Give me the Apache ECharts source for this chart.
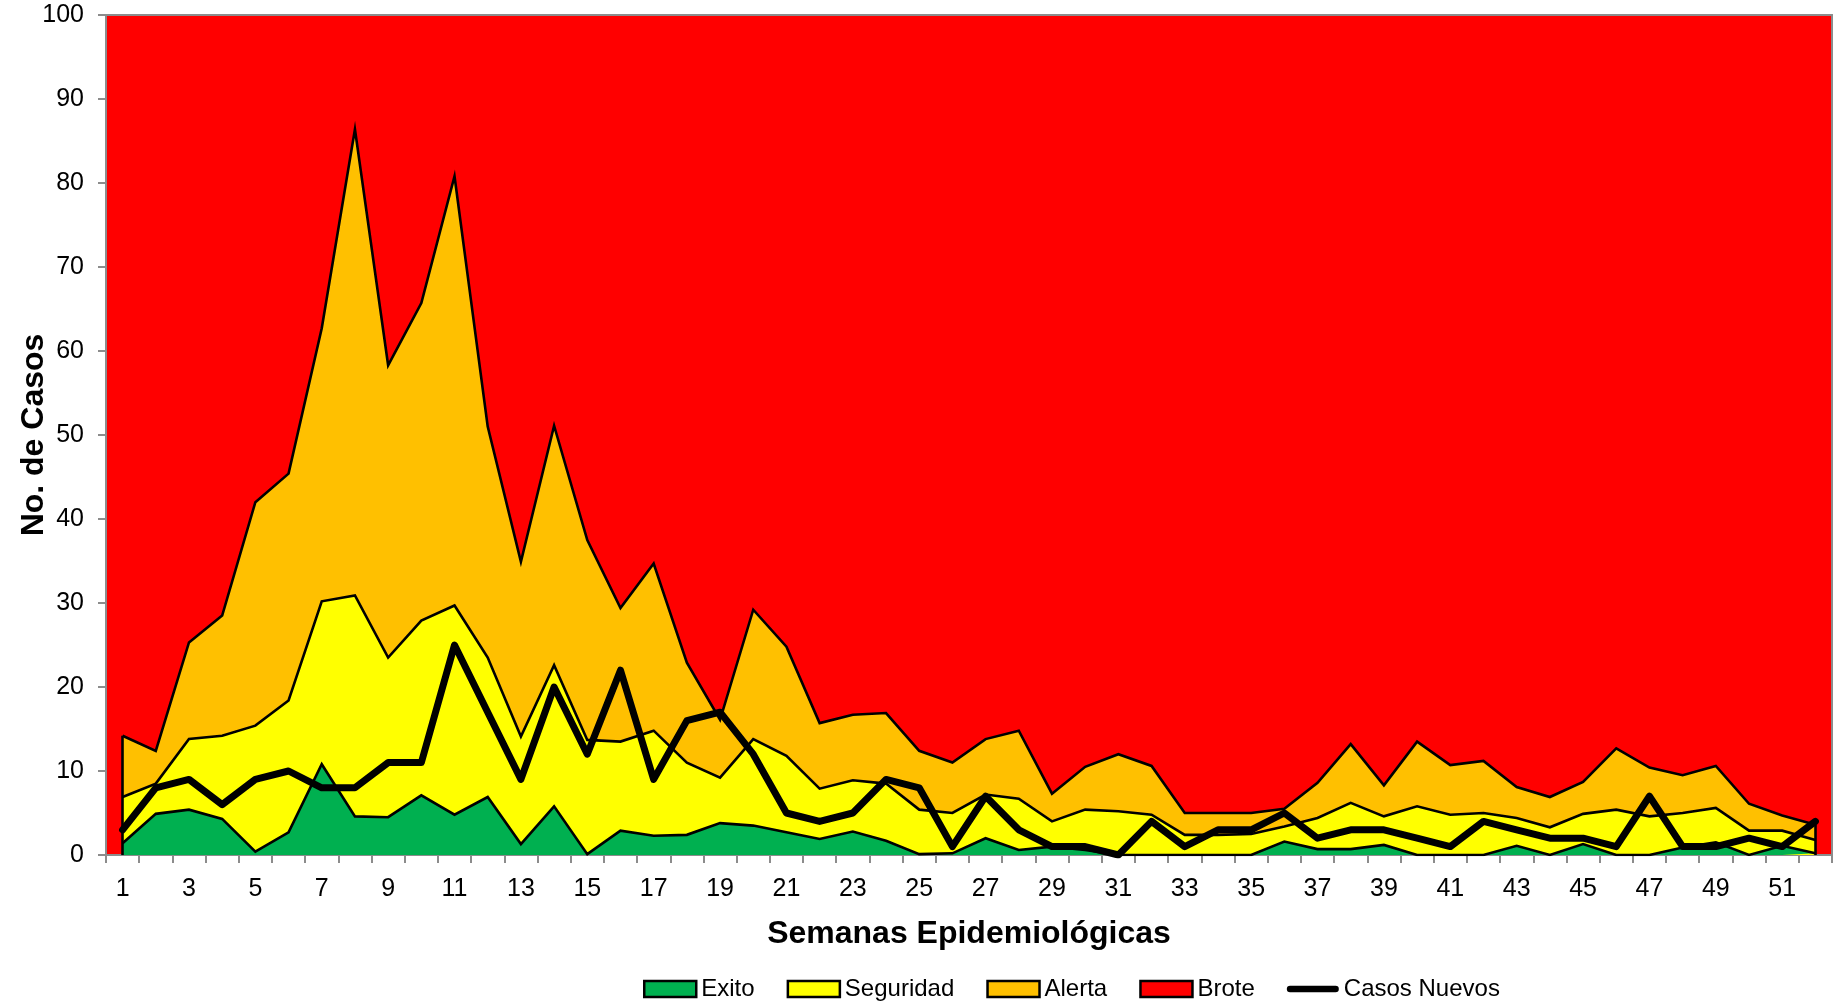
<!DOCTYPE html>
<html><head><meta charset="utf-8">
<script src="https://cdn.jsdelivr.net/npm/echarts@6/dist/echarts.min.js"></script>
<style>html,body{margin:0;padding:0;background:#fff}#c{width:1845px;height:1002px}</style>
</head><body><div id="c"></div>
<script>
const semanas = ['1','2','3','4','5','6','7','8','9','10','11','12','13','14','15','16','17','18','19','20','21','22','23','24','25','26','27','28','29','30','31','32','33','34','35','36','37','38','39','40','41','42','43','44','45','46','47','48','49','50','51','52'];
const exito = [1.4,4.9,5.4,4.3,0.4,2.7,10.8,4.6,4.5,7.1,4.8,6.9,1.3,5.8,0.1, 2.9,2.3,2.4,3.8,3.5,2.7,1.9,2.8,1.7,0.1,0.2,2.0,0.6,1.0,0.6, 0,0,0,0,0,1.6,0.7,0.7,1.2,0,0,0, 1.1,0,1.3,0,0,0.9,1.5,0,1.1,0.2];
const seguridad = [6.9,8.5,13.8,14.2,15.4,18.4,30.2,30.9,23.5,27.9,29.7,23.5,14.1,22.6,13.7, 13.5,14.8,11.0,9.2,13.8,11.8,7.9,8.9,8.5,5.4,5.0,7.2,6.7,4.0,5.4, 5.2,4.8,2.4,2.4,2.5,3.4,4.4,6.2,4.6,5.8,4.8,5.0, 4.4,3.3,4.9,5.4,4.6,5.0,5.6,2.9,2.9,1.8];
const alerta = [14.2,12.4,25.3,28.5,42.0,45.4,62.7,86.4,58.3,65.7,80.8,51.0,34.9,51.1,37.5, 29.4,34.7,22.9,16.1,29.2,24.8,15.7,16.7,16.9,12.4,11.0,13.8,14.8,7.3,10.5, 12.0,10.6,5.0,5.0,5.0,5.5,8.6,13.2,8.3,13.5,10.7,11.2, 8.1,6.9,8.7,12.7,10.4,9.5,10.6,6.1,4.7,3.6];
const casosNuevos = [3,8,9,6,9,10,8,8,11,11,25,17,9,20,12,22,9,16,17,12,5,4,5,9,8,1,7,3,1,1,0,4,1,3,3,5,2,3,3,2,1,4,3,2,2,1,7,1,1,2,1,4];
const yTicks = {min:0, max:100, interval:10};

const C_EXITO = '#00B050', C_SEG = '#FFFF00', C_ALERTA = '#FFC000', C_BROTE = '#FF0000';
const FONT = '"Liberation Sans", Arial, sans-serif';
const GRAY = '#8c8c8c';

function areaSeries(name, data, color, extra) {
  return Object.assign({
    name: name, type: 'line', data: data, symbol: 'none', showSymbol: false,
    lineStyle: {color: '#000', width: 2.6, join: 'miter'},
    areaStyle: {color: color, opacity: 1},
    itemStyle: {color: color},
    z: 2, silent: true
  }, extra || {});
}

const last = semanas.length - 1;
const chart = echarts.init(document.getElementById('c'));
chart.setOption({
  animation: false,
  grid: {left: 106, right: 13, top: 15, bottom: 147, show: true, backgroundColor: C_BROTE, borderColor: GRAY, borderWidth: 2,
         containLabel: false, outerBoundsMode: 'none'},
  xAxis: {
    type: 'category', data: semanas, boundaryGap: true,
    axisLine: {lineStyle: {color: GRAY, width: 2}},
    axisTick: {show: true, interval: 0, length: 8, lineStyle: {color: GRAY, width: 2}},
    axisLabel: {interval: 1, fontSize: 25, color: '#000', margin: 22, fontFamily: FONT},
    name: 'Semanas Epidemiológicas', nameLocation: 'middle', nameGap: 63, nameMoveOverlap: false,
    nameTextStyle: {fontSize: 32, fontWeight: 'bold', color: '#000', fontFamily: FONT}
  },
  yAxis: {
    type: 'value', min: yTicks.min, max: yTicks.max, interval: yTicks.interval,
    axisLine: {show: true, lineStyle: {color: GRAY, width: 2}},
    axisTick: {show: true, length: 8, lineStyle: {color: GRAY, width: 2}},
    splitLine: {show: false},
    axisLabel: {fontSize: 25, color: '#000', margin: 22, fontFamily: FONT},
    name: 'No. de Casos', nameLocation: 'middle', nameGap: 56, nameRotate: 90, nameMoveOverlap: false,
    nameTextStyle: {fontSize: 32, fontWeight: 'bold', color: '#000', fontFamily: FONT}
  },
  legend: {
    left: 638, top: 972, itemWidth: 52, itemHeight: 16, itemGap: 32,
    textStyle: {fontSize: 24, color: '#000', fontFamily: FONT},
    data: [
      {name: 'Exito', icon: 'rect', itemStyle: {color: C_EXITO, borderColor: '#000', borderWidth: 2.5}},
      {name: 'Seguridad', icon: 'rect', itemStyle: {color: C_SEG, borderColor: '#000', borderWidth: 2.5}},
      {name: 'Alerta', icon: 'rect', itemStyle: {color: C_ALERTA, borderColor: '#000', borderWidth: 2.5}},
      {name: 'Brote', icon: 'rect', itemStyle: {color: C_BROTE, borderColor: '#000', borderWidth: 2.5}},
      {name: 'Casos Nuevos', icon: 'path://M3.5,0 L52.5,0 A3.5,3.5 0 0 1 52.5,7 L3.5,7 A3.5,3.5 0 0 1 3.5,0 Z', itemStyle: {color: '#000', borderWidth: 0}}
    ]
  },
  series: [
    areaSeries('Alerta', alerta, C_ALERTA),
    areaSeries('Seguridad', seguridad, C_SEG),
    areaSeries('Exito', exito, C_EXITO, {
      markLine: {
        silent: true, symbol: 'none', label: {show: false}, z: 3,
        lineStyle: {color: '#000', width: 2.6, type: 'solid'},
        data: [
          [{coord: [semanas[0], 0]}, {coord: [semanas[0], alerta[0]]}],
          [{coord: [semanas[last], 0]}, {coord: [semanas[last], alerta[last]]}]
        ]
      }
    }),
    {name: 'Brote', type: 'line', data: [], symbol: 'none', itemStyle: {color: C_BROTE}, areaStyle: {color: C_BROTE}},
    {
      name: 'Casos Nuevos', type: 'line', data: casosNuevos, symbol: 'none', showSymbol: false, z: 4,
      lineStyle: {color: '#000', width: 7, cap: 'round', join: 'round'},
      itemStyle: {color: '#000'}
    }
  ]
});
</script>
</body></html>
